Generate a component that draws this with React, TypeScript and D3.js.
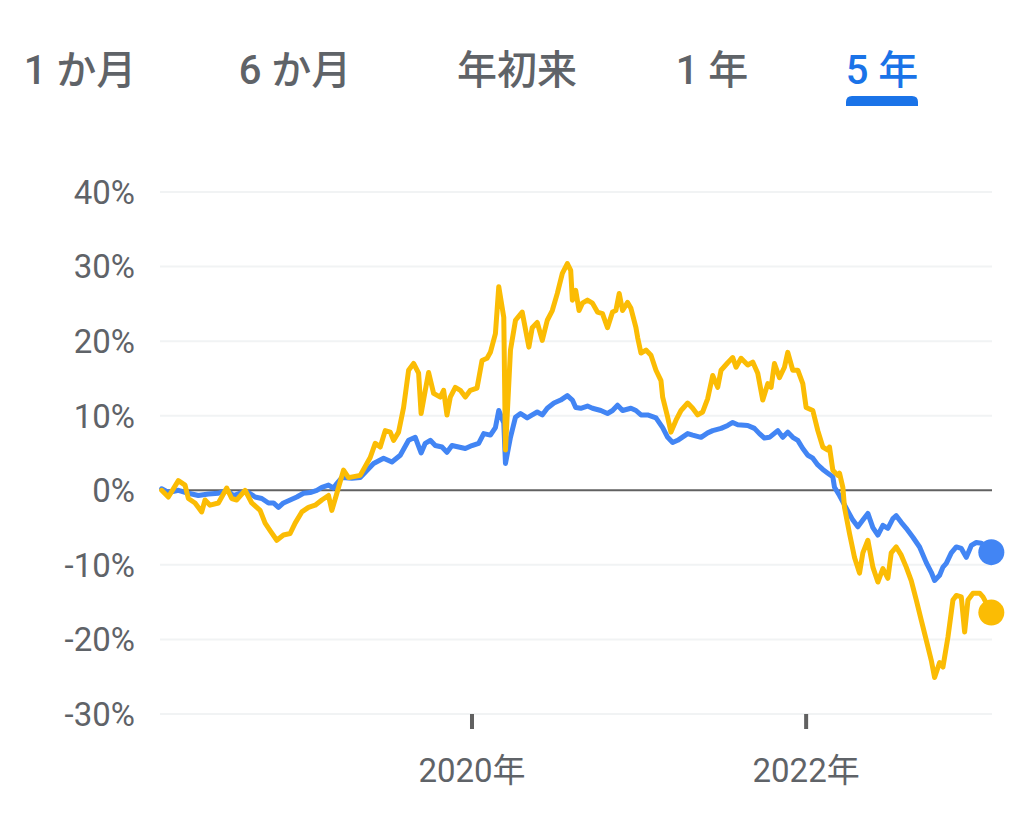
import React from 'react'
import * as d3 from 'd3'

// period tabs across the top
const tabLabels = ['1 か月', '6 か月', '年初来', '1 年', '5 年']
const tabCenters = [80, 295, 517, 712, 882]
const activeTab = 4

// y axis ticks (percent)
const yTicks = [40, 30, 20, 10, 0, -10, -20, -30]
// x axis ticks (year starts)
const xTickYears = [2020, 2022]

// series as [decimal year, % change]
const yellowSeries: [number, number][] = [
  [2018.14, 0], [2018.18, -0.9], [2018.24, 1.3], [2018.28, 0.7], [2018.30, -1.1], [2018.34, -1.7],
  [2018.38, -2.9], [2018.40, -1.3], [2018.43, -2.0], [2018.48, -1.7], [2018.53, 0.3], [2018.56, -1.1],
  [2018.59, -1.3], [2018.64, 0], [2018.68, -1.7], [2018.73, -2.7], [2018.76, -4.4], [2018.79, -5.4],
  [2018.83, -6.7], [2018.87, -6.0], [2018.91, -5.8], [2018.94, -4.4], [2018.98, -2.9], [2019.02, -2.3],
  [2019.06, -2.0], [2019.10, -1.3], [2019.14, -0.7], [2019.16, -2.7], [2019.19, -0.4], [2019.23, 2.7],
  [2019.26, 1.7], [2019.33, 2.0], [2019.39, 4.4], [2019.42, 6.3], [2019.45, 5.8], [2019.48, 8.0],
  [2019.51, 7.8], [2019.53, 6.7], [2019.56, 7.8], [2019.59, 11.1], [2019.62, 16.1], [2019.65, 17.0],
  [2019.68, 15.7], [2019.695, 10.3], [2019.72, 13.4], [2019.74, 15.8], [2019.77, 13.0], [2019.81, 12.5],
  [2019.83, 13.4], [2019.85, 10.1], [2019.87, 12.5], [2019.90, 13.8], [2019.93, 13.4], [2019.96, 12.5],
  [2019.99, 13.4], [2020.03, 13.7], [2020.06, 17.4], [2020.09, 17.7], [2020.11, 18.5], [2020.14, 21.0],
  [2020.16, 27.3], [2020.19, 23.2], [2020.20, 5.4], [2020.23, 18.8], [2020.26, 22.8], [2020.30, 23.9],
  [2020.34, 19.2], [2020.36, 21.8], [2020.39, 22.5], [2020.42, 20.1], [2020.45, 22.8], [2020.48, 24.1],
  [2020.51, 26.4], [2020.54, 29.1], [2020.57, 30.4], [2020.59, 29.5], [2020.60, 25.5], [2020.62, 26.8],
  [2020.64, 24.1], [2020.66, 25.1], [2020.69, 25.5], [2020.72, 25.1], [2020.75, 23.9], [2020.78, 23.7],
  [2020.81, 21.8], [2020.84, 23.9], [2020.86, 24.1], [2020.88, 26.4], [2020.90, 24.1], [2020.93, 25.2],
  [2020.95, 24.4], [2020.98, 21.8], [2020.99, 20.5], [2021.01, 18.4], [2021.04, 18.8], [2021.07, 18.1],
  [2021.10, 16.1], [2021.13, 14.7], [2021.14, 12.5], [2021.17, 9.8], [2021.19, 7.8], [2021.22, 9.4],
  [2021.25, 10.7], [2021.29, 11.7], [2021.32, 11.0], [2021.35, 10.1], [2021.38, 10.5], [2021.41, 12.3],
  [2021.44, 15.4], [2021.47, 13.8], [2021.49, 16.1], [2021.53, 17.1], [2021.56, 17.8], [2021.58, 16.5],
  [2021.61, 17.7], [2021.65, 16.8], [2021.68, 17.2], [2021.71, 15.7], [2021.74, 12.1], [2021.77, 14.3],
  [2021.79, 13.8], [2021.81, 17.0], [2021.84, 15.1], [2021.87, 16.5], [2021.89, 18.5], [2021.92, 16.1],
  [2021.95, 16.1], [2021.98, 14.3], [2022.00, 11.1], [2022.04, 10.7], [2022.07, 8.0], [2022.10, 5.8],
  [2022.13, 5.4], [2022.14, 5.8], [2022.16, 2.7], [2022.19, 2.0], [2022.20, 2.3], [2022.22, 0.4],
  [2022.23, -2.3], [2022.26, -5.8], [2022.29, -9.0], [2022.32, -11.1], [2022.34, -8.4], [2022.37, -6.7],
  [2022.40, -10.3], [2022.43, -12.3], [2022.46, -10.5], [2022.49, -11.8], [2022.51, -8.4], [2022.54, -7.6],
  [2022.57, -8.7], [2022.60, -10.3], [2022.63, -12.1], [2022.66, -14.7], [2022.69, -17.4], [2022.72, -20.1],
  [2022.75, -22.8], [2022.77, -25.1], [2022.80, -23.1], [2022.82, -23.7], [2022.85, -19.7], [2022.88, -14.7],
  [2022.90, -14.1], [2022.93, -14.3], [2022.95, -19.0], [2022.97, -14.7], [2023.00, -13.8], [2023.04, -13.8],
  [2023.06, -14.3], [2023.11, -16.4],
]

const blueSeries: [number, number][] = [
  [2018.14, 0.2], [2018.18, -0.3], [2018.24, 0], [2018.30, -0.4], [2018.36, -0.7], [2018.42, -0.5],
  [2018.48, -0.4], [2018.53, 0], [2018.57, -0.7], [2018.62, -0.3], [2018.66, -0.3], [2018.70, -0.9],
  [2018.74, -1.1], [2018.78, -1.7], [2018.81, -1.7], [2018.84, -2.3], [2018.87, -1.7], [2018.91, -1.3],
  [2018.95, -0.9], [2018.99, -0.4], [2019.03, -0.3], [2019.07, 0], [2019.10, 0.4], [2019.14, 0.7],
  [2019.17, 0.3], [2019.19, 0.9], [2019.22, 1.7], [2019.28, 1.6], [2019.33, 1.7], [2019.41, 3.6],
  [2019.47, 4.3], [2019.52, 3.8], [2019.57, 4.7], [2019.62, 6.7], [2019.66, 7.1], [2019.695, 5.0],
  [2019.72, 6.3], [2019.75, 6.7], [2019.78, 6.0], [2019.82, 5.8], [2019.85, 5.1], [2019.88, 6.0],
  [2019.92, 5.8], [2019.96, 5.6], [2020.00, 6.0], [2020.04, 6.3], [2020.07, 7.6], [2020.11, 7.4],
  [2020.14, 8.4], [2020.16, 10.7], [2020.19, 9.0], [2020.20, 3.6], [2020.23, 7.1], [2020.26, 9.8],
  [2020.29, 10.3], [2020.33, 9.7], [2020.36, 10.1], [2020.39, 10.5], [2020.42, 10.1], [2020.45, 11.0],
  [2020.49, 11.7], [2020.53, 12.1], [2020.57, 12.7], [2020.60, 12.1], [2020.62, 11.1], [2020.65, 11.0],
  [2020.69, 11.3], [2020.72, 11.0], [2020.77, 10.7], [2020.81, 10.3], [2020.84, 10.7], [2020.87, 11.4],
  [2020.90, 10.7], [2020.95, 11.0], [2020.98, 10.7], [2021.01, 10.1], [2021.05, 10.1], [2021.10, 9.7],
  [2021.14, 8.4], [2021.17, 7.1], [2021.20, 6.4], [2021.23, 6.7], [2021.29, 7.6], [2021.32, 7.4],
  [2021.37, 7.1], [2021.41, 7.7], [2021.44, 8.0], [2021.49, 8.3], [2021.53, 8.7], [2021.56, 9.1],
  [2021.59, 8.8], [2021.65, 8.7], [2021.69, 8.3], [2021.72, 7.6], [2021.75, 7.0], [2021.78, 7.1],
  [2021.83, 8.0], [2021.86, 7.1], [2021.89, 7.8], [2021.92, 7.1], [2021.95, 6.7], [2021.98, 5.6],
  [2022.01, 4.7], [2022.04, 4.3], [2022.07, 3.4], [2022.10, 2.8], [2022.13, 2.3], [2022.16, 1.8],
  [2022.17, 0.4], [2022.20, -0.7], [2022.25, -2.8], [2022.28, -4.0], [2022.31, -4.9], [2022.34, -4.0],
  [2022.37, -3.1], [2022.40, -5.0], [2022.43, -6.0], [2022.46, -4.7], [2022.49, -5.1], [2022.52, -3.8],
  [2022.54, -3.4], [2022.57, -4.3], [2022.60, -5.1], [2022.64, -6.3], [2022.68, -7.6], [2022.72, -9.7],
  [2022.75, -11.0], [2022.77, -12.1], [2022.80, -11.4], [2022.82, -10.3], [2022.84, -9.8], [2022.87, -8.4],
  [2022.90, -7.6], [2022.93, -7.8], [2022.96, -9.0], [2022.99, -7.4], [2023.02, -7.0], [2023.05, -7.1],
  [2023.11, -8.3],
]

const BLUE = '#4285f4'
const YELLOW = '#fbbc04'
const GREY_TEXT = '#5f6368'
const FONT = "Roboto, 'Noto Sans CJK JP', sans-serif"

// decimal year -> Date
const toDate = (y: number) => {
  const yr = Math.floor(y)
  const a = Date.UTC(yr, 0, 1)
  const b = Date.UTC(yr + 1, 0, 1)
  return new Date(a + (y - yr) * (b - a))
}

export default function App() {
  const width = 1010
  const height = 820

  const x = d3.scaleUtc()
    .domain([toDate(2018.13), toDate(2023.12)])
    .range([160, 993])

  const y = d3.scaleLinear()
    .domain([-30, 40])
    .range([714, 192])

  const line = d3.line<[number, number]>()
    .x(d => x(toDate(d[0])))
    .y(d => y(d[1]))
    .curve(d3.curveLinear)

  const gridX0 = 160
  const gridX1 = 992
  const lastBlue = blueSeries[blueSeries.length - 1]
  const lastYellow = yellowSeries[yellowSeries.length - 1]
  const ac = tabCenters[activeTab]

  return (
    <svg
      width={width}
      height={height}
      style={{ position: 'absolute', left: 0, top: 0, background: '#fff' }}
      fontFamily={FONT}
    >
      {/* tabs */}
      {tabLabels.map((t, i) => (
        <text
          key={t}
          x={tabCenters[i]}
          y={84}
          textAnchor="middle"
          fontSize={40}
          fontWeight={500}
          fill={i === activeTab ? '#1a73e8' : GREY_TEXT}
        >
          {t}
        </text>
      ))}
      <path
        d={`M${ac - 36},106 L${ac - 36},102 Q${ac - 36},96 ${ac - 30},96 L${ac + 30},96 Q${ac + 36},96 ${ac + 36},102 L${ac + 36},106 Z`}
        fill="#1a73e8"
      />

      {/* gridlines + y labels */}
      {yTicks.map(v => (
        <g key={v}>
          {v !== 0 && (
            <line x1={gridX0} x2={gridX1} y1={y(v)} y2={y(v)} stroke="#f1f3f4" strokeWidth={2} />
          )}
          <text
            x={135}
            y={y(v)}
            dy="0.36em"
            textAnchor="end"
            fontSize={33}
            fill={GREY_TEXT}
          >
            {`${v}%`}
          </text>
        </g>
      ))}
      <line x1={gridX0} x2={gridX1} y1={y(0)} y2={y(0)} stroke="#616161" strokeWidth={2} />

      {/* x ticks */}
      {xTickYears.map(yr => (
        <g key={yr}>
          <rect x={x(toDate(yr)) - 2} y={714} width={4} height={15} fill="#616161" />
          <text
            x={x(toDate(yr))}
            y={782}
            textAnchor="middle"
            fontSize={33}
            fill={GREY_TEXT}
          >
            {`${yr}年`}
          </text>
        </g>
      ))}

      {/* series */}
      <path d={line(blueSeries) || ''} fill="none" stroke={BLUE} strokeWidth={5} strokeLinejoin="round" strokeLinecap="round" />
      <path d={line(yellowSeries) || ''} fill="none" stroke={YELLOW} strokeWidth={5} strokeLinejoin="round" strokeLinecap="round" />
      <circle cx={x(toDate(lastBlue[0]))} cy={y(lastBlue[1])} r={13} fill={BLUE} />
      <circle cx={x(toDate(lastYellow[0]))} cy={y(lastYellow[1])} r={13} fill={YELLOW} />
    </svg>
  )
}
